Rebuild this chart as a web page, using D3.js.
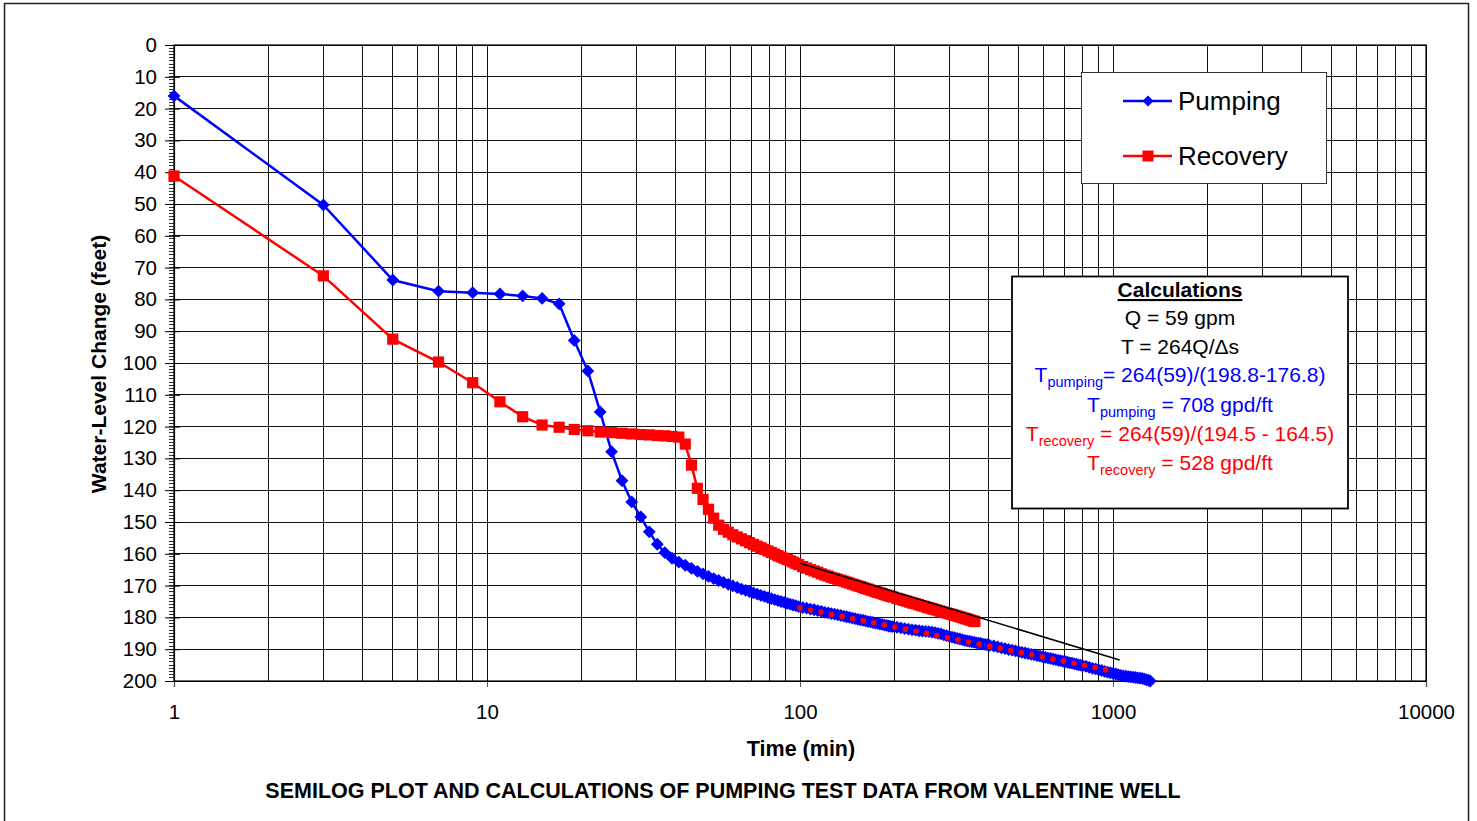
<!DOCTYPE html>
<html><head><meta charset="utf-8">
<script src="https://cdn.jsdelivr.net/npm/d3@7"></script>
<style>
html,body{margin:0;padding:0;background:#fff;}
svg{display:block;font-family:"Liberation Sans",Arial,Helvetica,sans-serif;}
</style></head><body>
<svg id="c" width="1477" height="821"></svg>
<script>
// ---------------- DATA ----------------
const pumpTime = [1,3,5,7,9,11,13,15,17,19,21,23,25,27,29,31,33,35,37,39,41,43,45,47,49,51,53,55,57,59,
  61,63,65,67,69,71,73,75,77,79,81,83,85,87,89,91,93,95,97,99,
  102,105,108,111,114,117,120,123,126,129,132,135,138,141,144,147,150,153,156,159,162,165,168,171,174,177,180,183,186,189,192,195,198,
  204,210,216,222,228,234,240,246,252,258,264,270,276,282,288,294,300,306,312,318,324,330,336,342,348,354,360,366,372,378,384,390,396,
  404,416,428,440,452,464,476,488,500,512,524,536,548,560,572,584,596,608,620,632,644,656,668,680,692,704,716,728,740,752,764,776,788,800,
  820,840,860,880,900,920,940,960,980,1000,1020,1040,1060,1080,1100,1120,1140,1160,1180,1200,1220,1240,1260,1280,1300,1315];
const pumpLevel = [16.0,50.3,73.9,77.4,77.9,78.3,78.9,79.7,81.4,92.9,102.5,115.4,127.9,137.0,143.7,148.4,153.1,157.0,159.6,161.4,162.6,163.6,164.6,165.5,166.3,167.1,167.8,168.4,169.0,169.6,
  170.1,170.6,171.1,171.5,171.9,172.3,172.7,173.1,173.4,173.8,174.1,174.4,174.7,175.0,175.3,175.6,175.8,176.1,176.3,176.6,
  176.9,177.1,177.4,177.6,177.9,178.1,178.4,178.6,178.8,179.0,179.2,179.4,179.6,179.8,180.0,180.2,180.4,180.6,180.8,180.9,181.1,181.3,181.4,181.6,181.8,181.9,182.1,182.2,182.4,182.5,182.7,182.8,182.9,
  183.1,183.3,183.5,183.7,183.9,184.0,184.2,184.3,184.4,184.5,184.6,184.8,185.0,185.2,185.5,185.7,186.0,186.2,186.4,186.6,186.8,187.0,187.2,187.4,187.5,187.7,187.8,188.0,188.1,188.2,188.4,188.5,188.6,
  188.8,189.0,189.3,189.6,189.8,190.1,190.3,190.5,190.8,191.0,191.2,191.4,191.6,191.8,192.0,192.2,192.4,192.6,192.8,192.9,193.1,193.3,193.5,193.6,193.8,193.9,194.1,194.3,194.4,194.6,194.7,194.9,195.0,195.2,
  195.4,195.7,196.0,196.2,196.5,196.7,197.0,197.2,197.4,197.6,197.8,198.0,198.2,198.4,198.5,198.6,198.7,198.8,198.9,199.0,199.1,199.2,199.4,199.6,199.8,200.0];

const recTime = [1,3,5,7,9,11,13,15,17,19,21,23,25,27,29,31,33,35,37,39,41,43,45,47,49,51,53,55,57,59,
  61,63,65,67,69,71,73,75,77,79,81,83,85,87,89,91,93,95,97,99,
  102,105,108,111,114,117,120,123,126,129,132,135,138,141,144,147,150,153,156,159,162,165,168,171,174,177,180,183,186,189,192,195,198,
  204,209,214,219,224,229,234,239,244,249,254,259,264,269,274,279,284,289,294,299,304,309,314,319,324,329,334,339,344,349,354,359,362];
const recLevel = [41.2,72.6,92.5,99.7,106.2,112.2,116.9,119.5,120.2,120.9,121.3,121.7,121.9,122.1,122.3,122.5,122.6,122.8,122.9,123.1,123.3,125.5,132.1,139.4,142.9,146.0,148.8,151.0,152.3,153.2,
  154.0,154.7,155.3,155.9,156.5,157.1,157.6,158.1,158.6,159.1,159.6,160.1,160.6,161.0,161.4,161.8,162.2,162.6,163.0,163.4,
  164.0,164.5,165.0,165.4,165.8,166.3,166.7,167.0,167.4,167.7,168.0,168.3,168.6,168.9,169.2,169.5,169.8,170.1,170.3,170.6,170.9,171.1,171.4,171.6,171.9,172.1,172.3,172.5,172.8,173.0,173.2,173.4,173.6,
  174.0,174.3,174.6,174.9,175.2,175.5,175.7,176.0,176.3,176.5,176.8,177.0,177.3,177.5,177.7,178.0,178.2,178.4,178.6,178.8,179.0,179.2,179.4,179.6,179.8,180.0,180.2,180.4,180.6,180.8,181.0,181.2,181.3];

const pumpFitTime = [100, 1000];
const pumpFitLevel = [177.0, 196.9];
const recFitTime = [100, 1050];
const recFitLevel = [163.0, 193.4];

const xTickValues = [1, 10, 100, 1000, 10000];
const xTickLabels = ["1", "10", "100", "1000", "10000"];
const yTickValues = [0,10,20,30,40,50,60,70,80,90,100,110,120,130,140,150,160,170,180,190,200];
const seriesNames = ["Pumping", "Recovery"];
const seriesColors = ["#0000FF", "#FF0000"];

const xTitle = "Time (min)";
const yTitle = "Water-Level Change (feet)";
const footer = "SEMILOG PLOT AND CALCULATIONS OF PUMPING TEST DATA FROM VALENTINE WELL";
const calcTitle = "Calculations";
const calcLines = [
  {color: "#000", parts: [["Q = 59 gpm", 0]]},
  {color: "#000", parts: [["T = 264Q/\u0394s", 0]]},
  {color: "#0000FF", parts: [["T", 0], ["pumping", 1], ["= 264(59)/(198.8-176.8)", 0]]},
  {color: "#0000FF", parts: [["T", 0], ["pumping", 1], [" = 708 gpd/ft", 0]]},
  {color: "#FF0000", parts: [["T", 0], ["recovery", 1], [" = 264(59)/(194.5 - 164.5)", 0]]},
  {color: "#FF0000", parts: [["T", 0], ["recovery", 1], [" = 528 gpd/ft", 0]]}
];

// ---------------- CHART ----------------
const svg = d3.select("#c");
const L = 174, R = 1426, T = 45, B = 681;
const x = d3.scaleLog().domain([1, 10000]).range([L, R]);
const y = d3.scaleLinear().domain([0, 200]).range([T, B]);

// outer border
svg.append("rect").attr("x", 4.5).attr("y", 3.5).attr("width", 1464).attr("height", 840)
  .attr("fill", "#fff").attr("stroke", "#222").attr("stroke-width", 1.5);

// plot area
svg.append("rect").attr("x", L).attr("y", T).attr("width", R - L).attr("height", B - T).attr("fill", "#fff");

// vertical grid
const xGrid = [];
for (let d = 1; d < 10000; d *= 10) for (let k = 1; k <= 9; k++) xGrid.push(d * k);
xGrid.push(10000);
svg.append("g").attr("shape-rendering", "crispEdges").selectAll("line").data(xGrid).join("line")
  .attr("x1", d => x(d)).attr("x2", d => x(d)).attr("y1", T).attr("y2", B)
  .attr("stroke", "#111").attr("stroke-width", 1);
// horizontal grid
svg.append("g").attr("shape-rendering", "crispEdges").selectAll("line").data(yTickValues).join("line")
  .attr("x1", L).attr("x2", R).attr("y1", d => y(d)).attr("y2", d => y(d))
  .attr("stroke", "#111").attr("stroke-width", 1);

// y axis minor ticks
const yMinor = d3.range(0, 201, 1);
svg.append("g").attr("shape-rendering", "crispEdges").selectAll("line").data(yMinor).join("line")
  .attr("x1", L - 5).attr("x2", L).attr("y1", d => y(d)).attr("y2", d => y(d))
  .attr("stroke", "#333").attr("stroke-width", 1);

// y axis (left) using d3 axis
const yAxis = d3.axisLeft(y).tickValues(yTickValues).tickSize(8).tickPadding(9).tickFormat(d3.format("d"));
const gy = svg.append("g").attr("transform", `translate(${L},0)`).call(yAxis);
gy.select(".domain").attr("stroke", "#000").attr("stroke-width", 1.2);
gy.selectAll(".tick line").attr("stroke", "#000").attr("x2", 6).attr("x1", -9);
gy.selectAll(".tick text").attr("font-size", "20.5px").attr("fill", "#000")
  .attr("font-family", '"Liberation Sans",Arial,sans-serif').attr("x", -17);

// x axis
const xAxis = d3.axisBottom(x).tickValues(xTickValues).tickSize(6).tickPadding(17)
  .tickFormat((d, i) => xTickLabels[i]);
const gx = svg.append("g").attr("transform", `translate(0,${B})`).call(xAxis);
gx.select(".domain").attr("stroke", "#000").attr("stroke-width", 1.2);
gx.selectAll(".tick line").attr("stroke", "#555");
gx.selectAll(".tick text").attr("font-size", "20.5px").attr("fill", "#000")
  .attr("font-family", '"Liberation Sans",Arial,sans-serif');

// plot frame top/right
svg.append("rect").attr("x", L).attr("y", T).attr("width", R - L).attr("height", B - T)
  .attr("fill", "none").attr("stroke", "#000").attr("stroke-width", 1.2);

// series
const line = d3.line().x(d => x(d[0])).y(d => y(d[1]));
const pumpData = d3.zip(pumpTime, pumpLevel);
const recData = d3.zip(recTime, recLevel);
const diamond = r => `M0,${-r}L${r},0L0,${r}L${-r},0Z`;

const gP = svg.append("g");
gP.append("path").datum(pumpData).attr("d", line).attr("fill", "none")
  .attr("stroke", seriesColors[0]).attr("stroke-width", 2.5);
gP.selectAll("path.m").data(pumpData).join("path").attr("class", "m")
  .attr("transform", d => `translate(${x(d[0])},${y(d[1])})`)
  .attr("d", diamond(6.4)).attr("fill", seriesColors[0]);

const gR = svg.append("g");
gR.append("path").datum(recData).attr("d", line).attr("fill", "none")
  .attr("stroke", seriesColors[1]).attr("stroke-width", 2.5);
const sq = 11.2;
gR.selectAll("rect").data(recData).join("rect")
  .attr("x", d => x(d[0]) - sq / 2).attr("y", d => y(d[1]) - sq / 2)
  .attr("width", sq).attr("height", sq).attr("fill", seriesColors[1]);

// fitted lines
svg.append("path").datum(d3.zip(pumpFitTime, pumpFitLevel)).attr("d", line)
  .attr("fill", "none").attr("stroke", "#FF0000").attr("stroke-width", 5.6)
  .attr("stroke-linecap", "round").attr("stroke-dasharray", "0,10.75");
svg.append("path").datum(d3.zip(recFitTime, recFitLevel)).attr("d", line)
  .attr("fill", "none").attr("stroke", "#000").attr("stroke-width", 1.6);

// titles
svg.append("text").attr("x", 801).attr("y", 756).attr("text-anchor", "middle")
  .attr("font-size", "21.5px").attr("font-weight", "bold").text(xTitle);
svg.append("text").attr("transform", "translate(106,364) rotate(-90)").attr("text-anchor", "middle")
  .attr("font-size", "21px").attr("font-weight", "bold").text(yTitle);
svg.append("text").attr("x", 723).attr("y", 798).attr("text-anchor", "middle")
  .attr("font-size", "21.5px").attr("font-weight", "bold").text(footer);

// legend
const lg = svg.append("g");
lg.append("rect").attr("x", 1081.5).attr("y", 72.5).attr("width", 245).attr("height", 111)
  .attr("fill", "#fff").attr("stroke", "#333").attr("stroke-width", 1);
const legY = [101, 156];
seriesNames.forEach((name, i) => {
  lg.append("line").attr("x1", 1123).attr("x2", 1172).attr("y1", legY[i]).attr("y2", legY[i])
    .attr("stroke", seriesColors[i]).attr("stroke-width", 2.5);
  if (i === 0) {
    lg.append("path").attr("transform", `translate(1148,${legY[i]})`).attr("d", diamond(5.5)).attr("fill", seriesColors[i]);
  } else {
    lg.append("rect").attr("x", 1142.5).attr("y", legY[i] - 5.5).attr("width", 11).attr("height", 11).attr("fill", seriesColors[i]);
  }
  lg.append("text").attr("x", 1178).attr("y", legY[i] + 9).attr("font-size", "26px").attr("fill", "#000").text(name);
});

// calculations box
const cb = svg.append("g");
cb.append("rect").attr("x", 1012).attr("y", 276.5).attr("width", 336).attr("height", 232)
  .attr("fill", "#fff").attr("stroke", "#000").attr("stroke-width", 1.8);
const cx = 1180;
cb.append("text").attr("x", cx).attr("y", 297).attr("text-anchor", "middle")
  .attr("font-size", "21px").attr("font-weight", "bold").attr("text-decoration", "underline").text(calcTitle);
const baseY = [324.5, 354, 381.5, 411.5, 440.5, 469.5];
calcLines.forEach((ln, i) => {
  const t = cb.append("text").attr("x", cx).attr("y", baseY[i]).attr("text-anchor", "middle")
    .attr("font-size", "21px").attr("fill", ln.color);
  let shifted = false;
  ln.parts.forEach(([s, sub]) => {
    const ts = t.append("tspan").text(s);
    if (sub) { ts.attr("font-size", "14.5px").attr("dy", 5); shifted = true; }
    else if (shifted) { ts.attr("dy", -5); shifted = false; }
  });
});
</script>
</body></html>
